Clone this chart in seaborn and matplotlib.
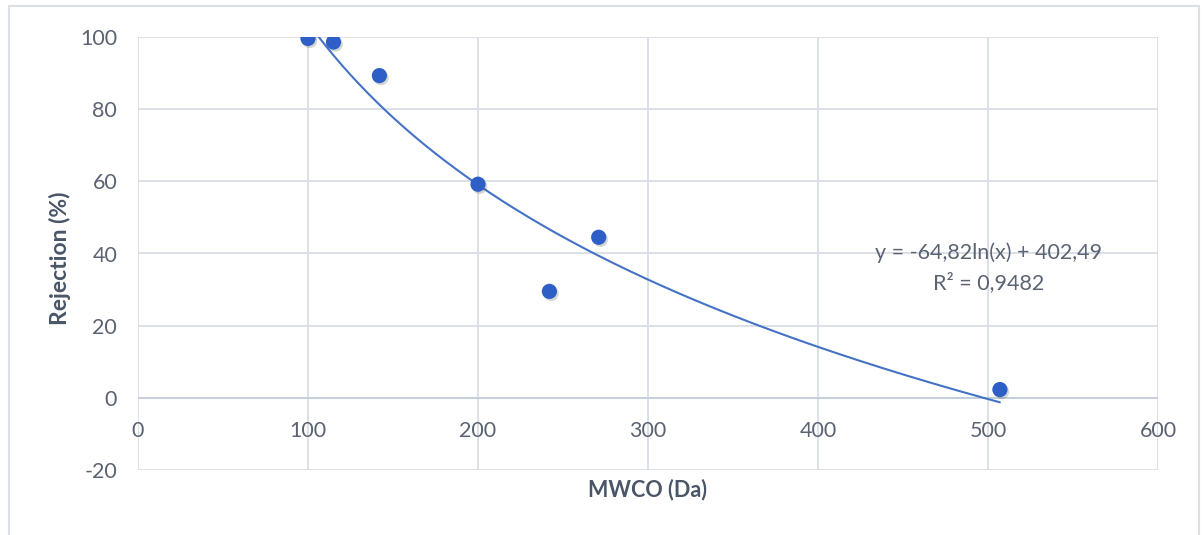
import numpy as np
import pandas as pd
import matplotlib
matplotlib.use("Agg")
import matplotlib.pyplot as plt
import matplotlib.patheffects as pe
from matplotlib.patches import Rectangle
import seaborn as sns

# Data
mwco = [100, 115, 142, 200, 242, 271, 507]
rejection = [99.6, 98.6, 89.3, 59.2, 29.5, 44.5, 2.3]
coef_a = -64.82
coef_b = 402.49
r2_text = "0,9482"
eq_text = "y = -64,82ln(x) + 402,49"
x_ticks = [0, 100, 200, 300, 400, 500, 600]
y_ticks = [-20, 0, 20, 40, 60, 80, 100]

sns.set_theme(style="white")
plt.rcParams['font.family'] = ['Lato', 'DejaVu Sans']
plt.rcParams['axes.unicode_minus'] = False

fig = plt.figure(figsize=(12.03, 5.35), dpi=100)
ax = fig.add_axes([138/1203, 1-470/535, (1158-138)/1203, (470-37)/535])

df = pd.DataFrame({"MWCO": mwco, "Rejection": rejection})

# trend line (logarithmic fit as displayed)
xs = np.linspace(min(mwco), max(mwco), 300)
trend = pd.DataFrame({"x": xs, "y": coef_a*np.log(xs) + coef_b})
sns.lineplot(data=trend, x="x", y="y", ax=ax, color="#4472C4", linewidth=1.5, zorder=3)

sns.scatterplot(data=df, x="MWCO", y="Rejection", ax=ax, color="#2E5FC7",
                s=120, edgecolor="none", zorder=4)
for coll in ax.collections:
    coll.set_path_effects([pe.SimplePatchShadow(offset=(1.2, -1.5), alpha=0.22, shadow_rgbFace="#444444"),
                           pe.Normal()])

ax.set_xlim(0, 600)
ax.set_ylim(-20, 100)
ax.set_xticks(x_ticks)
ax.set_yticks(y_ticks)
ax.grid(True, color="#D9DEE7", linewidth=1.3)
ax.set_axisbelow(True)
for s in ax.spines.values():
    s.set_visible(False)
ax.axhline(0, color="#C3CCDA", linewidth=1.3, zorder=2)

tick_color = "#5B6372"
label_color = "#4A5568"
ax.spines['bottom'].set_position(('data', 0))
ax.tick_params(axis='x', length=0, pad=17, labelsize=15.5, labelcolor=tick_color)
ax.tick_params(axis='y', length=0, pad=15, labelsize=15.5, labelcolor=tick_color)

ax.set_xlabel("")
ax.set_ylabel("")
fig.text(648/1203, 1-490/535, "MWCO (Da)", ha="center", va="center",
         fontsize=15.5, fontweight="bold", color=label_color)
fig.text(60/1203, 1-258/535, "Rejection (%)", ha="center", va="center", rotation=90,
         fontsize=16.5, fontweight="bold", color=label_color)

ax.text(500.5, 40.3, eq_text, ha="center", va="center", fontsize=15.5, color=tick_color)
ax.text(500.5, 32.0, "R² = " + r2_text, ha="center", va="center", fontsize=15.5, color=tick_color)

fig.patches.append(Rectangle((9/1203, -0.05), (1199-9)/1203, 1.05-6/535, transform=fig.transFigure,
                             fill=False, edgecolor="#D9DEE7", linewidth=1.5))

fig.savefig("out.png", dpi=100)
